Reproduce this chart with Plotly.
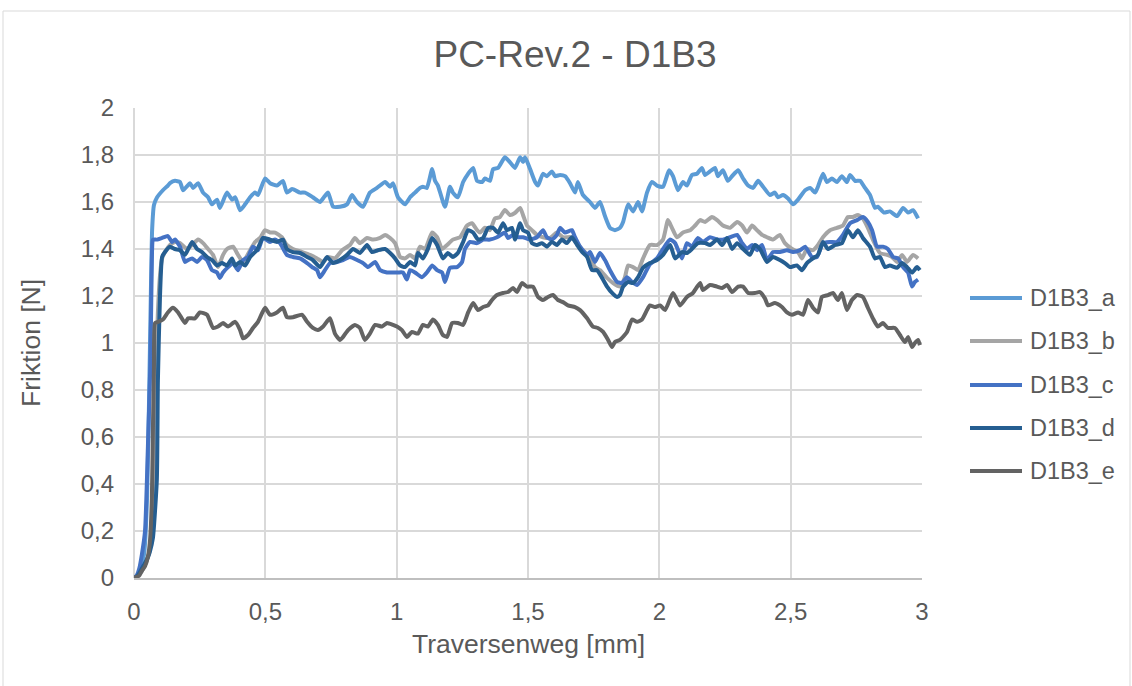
import plotly.graph_objects as go

# Traversenweg [mm] and Friktion [N] per sample
weg_a = [0, 0.01, 0.02, 0.03, 0.04, 0.05, 0.058, 0.064, 0.069, 0.076,
         0.088, 0.110, 0.129, 0.137, 0.156, 0.175, 0.187, 0.213, 0.225, 0.244, 0.263, 0.282, 0.297, 0.316, 0.327,
         0.354, 0.373, 0.385, 0.404, 0.423, 0.442, 0.461, 0.472, 0.499, 0.518, 0.544, 0.567, 0.582, 0.602, 0.632,
         0.651, 0.681, 0.708, 0.723, 0.739, 0.758, 0.784, 0.811, 0.830, 0.849, 0.872, 0.898, 0.925, 0.956, 0.975,
         0.986, 1.005, 1.032, 1.051, 1.070, 1.089, 1.100, 1.115, 1.135, 1.146, 1.157, 1.184, 1.203, 1.214, 1.233,
         1.253, 1.272, 1.291, 1.306, 1.325, 1.336, 1.355, 1.367, 1.386, 1.412, 1.431, 1.450, 1.470, 1.481, 1.489,
         1.508, 1.527, 1.538, 1.557, 1.572, 1.591, 1.603, 1.622, 1.641, 1.660, 1.679, 1.690, 1.709, 1.736, 1.755,
         1.774, 1.793, 1.812, 1.831, 1.850, 1.862, 1.881, 1.900, 1.919, 1.934, 1.953, 1.972, 1.991, 2.014, 2.037,
         2.052, 2.071, 2.090, 2.105, 2.124, 2.143, 2.162, 2.174, 2.193, 2.212, 2.223, 2.242, 2.261, 2.277, 2.300,
         2.319, 2.338, 2.357, 2.376, 2.395, 2.421, 2.440, 2.452, 2.471, 2.490, 2.509, 2.528, 2.555, 2.574, 2.593,
         2.604, 2.623, 2.638, 2.657, 2.676, 2.695, 2.714, 2.726, 2.745, 2.764, 2.783, 2.802, 2.821, 2.832, 2.855,
         2.878, 2.905, 2.928, 2.947, 2.966, 2.985]
friktion_a = [0, 0.005, 0.02, 0.05, 0.12, 0.35, 0.8, 1.2, 1.48, 1.587,
              1.62, 1.65, 1.67, 1.68, 1.69, 1.685, 1.65, 1.68, 1.66, 1.68, 1.64, 1.62, 1.59, 1.61, 1.575,
              1.64, 1.61, 1.62, 1.565, 1.59, 1.62, 1.64, 1.63, 1.70, 1.68, 1.67, 1.69, 1.64, 1.655, 1.64,
              1.64, 1.62, 1.60, 1.62, 1.64, 1.58, 1.58, 1.59, 1.63, 1.60, 1.58, 1.64, 1.66, 1.685, 1.665,
              1.68, 1.62, 1.59, 1.62, 1.64, 1.66, 1.665, 1.66, 1.74, 1.69, 1.67, 1.58, 1.665, 1.64, 1.62,
              1.685, 1.72, 1.745, 1.69, 1.685, 1.70, 1.69, 1.74, 1.745, 1.79, 1.77, 1.745, 1.79, 1.77, 1.79,
              1.74, 1.685, 1.67, 1.72, 1.71, 1.73, 1.71, 1.715, 1.71, 1.68, 1.64, 1.685, 1.63, 1.60, 1.575,
              1.60, 1.54, 1.49, 1.48, 1.49, 1.515, 1.59, 1.56, 1.60, 1.56, 1.64, 1.685, 1.67, 1.665, 1.735,
              1.71, 1.65, 1.685, 1.67, 1.715, 1.72, 1.745, 1.715, 1.73, 1.745, 1.71, 1.735, 1.69, 1.71, 1.735,
              1.70, 1.67, 1.66, 1.69, 1.665, 1.63, 1.64, 1.62, 1.63, 1.615, 1.59, 1.61, 1.65, 1.66, 1.64,
              1.665, 1.72, 1.685, 1.70, 1.685, 1.71, 1.685, 1.715, 1.69, 1.69, 1.66, 1.63, 1.575, 1.58, 1.555,
              1.56, 1.54, 1.575, 1.555, 1.565, 1.53]

weg_b = [0, 0.01, 0.02, 0.03, 0.04, 0.05, 0.06, 0.07, 0.08, 0.085, 0.09, 0.10,
         0.107, 0.118, 0.137, 0.156, 0.175, 0.202, 0.221, 0.244, 0.263, 0.282, 0.301, 0.320, 0.339, 0.354, 0.377,
         0.396, 0.415, 0.442, 0.461, 0.480, 0.499, 0.518, 0.537, 0.563, 0.582, 0.605, 0.640, 0.670, 0.697, 0.720,
         0.739, 0.765, 0.792, 0.822, 0.841, 0.860, 0.887, 0.910, 0.937, 0.956, 0.975, 0.994, 1.013, 1.032, 1.051,
         1.070, 1.089, 1.108, 1.135, 1.154, 1.173, 1.192, 1.214, 1.241, 1.268, 1.287, 1.306, 1.317, 1.336, 1.355,
         1.374, 1.393, 1.412, 1.431, 1.450, 1.470, 1.481, 1.496, 1.515, 1.534, 1.557, 1.584, 1.610, 1.633, 1.667,
         1.687, 1.709, 1.736, 1.755, 1.774, 1.801, 1.824, 1.850, 1.869, 1.881, 1.900, 1.919, 1.938, 1.964, 1.991,
         2.014, 2.033, 2.048, 2.067, 2.090, 2.117, 2.136, 2.155, 2.174, 2.200, 2.220, 2.242, 2.269, 2.296, 2.315,
         2.334, 2.353, 2.372, 2.391, 2.410, 2.433, 2.459, 2.478, 2.505, 2.528, 2.543, 2.562, 2.585, 2.604, 2.623,
         2.650, 2.676, 2.699, 2.718, 2.737, 2.756, 2.775, 2.794, 2.813, 2.840, 2.867, 2.886, 2.905, 2.924, 2.943,
         2.966, 2.985]
friktion_b = [0, 0.005, 0.015, 0.03, 0.05, 0.08, 0.12, 0.2, 0.45, 0.8, 1.1, 1.3,
              1.36, 1.387, 1.417, 1.43, 1.425, 1.40, 1.417, 1.44, 1.425, 1.40, 1.375, 1.323, 1.375, 1.40, 1.41,
              1.375, 1.345, 1.395, 1.43, 1.447, 1.48, 1.47, 1.47, 1.45, 1.417, 1.40, 1.387, 1.375, 1.36, 1.345,
              1.366, 1.36, 1.395, 1.417, 1.447, 1.425, 1.447, 1.44, 1.447, 1.46, 1.447, 1.425, 1.366, 1.36, 1.375,
              1.36, 1.41, 1.40, 1.47, 1.45, 1.40, 1.417, 1.44, 1.45, 1.50, 1.51, 1.48, 1.47, 1.49, 1.48,
              1.53, 1.536, 1.566, 1.545, 1.553, 1.575, 1.545, 1.50, 1.48, 1.46, 1.45, 1.447, 1.47, 1.45, 1.45,
              1.425, 1.395, 1.366, 1.323, 1.31, 1.277, 1.255, 1.24, 1.28, 1.33, 1.323, 1.31, 1.36, 1.417, 1.417,
              1.44, 1.523, 1.49, 1.45, 1.47, 1.48, 1.50, 1.523, 1.515, 1.536, 1.523, 1.50, 1.49, 1.515, 1.50,
              1.47, 1.50, 1.48, 1.46, 1.45, 1.44, 1.46, 1.425, 1.40, 1.387, 1.36, 1.40, 1.395, 1.417, 1.45,
              1.48, 1.49, 1.50, 1.536, 1.536, 1.545, 1.53, 1.49, 1.44, 1.383, 1.375, 1.366, 1.345, 1.375, 1.345,
              1.375, 1.36]

weg_c = [0, 0.01, 0.02, 0.03, 0.042, 0.053, 0.062, 0.066, 0.069, 0.072,
         0.088, 0.107, 0.129, 0.145, 0.156, 0.175, 0.194, 0.206, 0.221, 0.240, 0.259, 0.278, 0.297, 0.316, 0.327,
         0.339, 0.358, 0.377, 0.396, 0.415, 0.434, 0.453, 0.472, 0.491, 0.518, 0.537, 0.556, 0.582, 0.605, 0.632,
         0.659, 0.678, 0.697, 0.708, 0.727, 0.746, 0.773, 0.796, 0.822, 0.849, 0.872, 0.891, 0.918, 0.937, 0.963,
         0.986, 1.005, 1.024, 1.039, 1.051, 1.070, 1.096, 1.115, 1.135, 1.154, 1.173, 1.184, 1.203, 1.230, 1.249,
         1.260, 1.279, 1.306, 1.329, 1.355, 1.382, 1.412, 1.424, 1.443, 1.462, 1.481, 1.508, 1.534, 1.557, 1.572,
         1.591, 1.610, 1.622, 1.641, 1.667, 1.679, 1.698, 1.725, 1.736, 1.755, 1.774, 1.793, 1.812, 1.839, 1.858,
         1.877, 1.896, 1.915, 1.938, 1.964, 1.991, 2.014, 2.041, 2.060, 2.086, 2.105, 2.124, 2.147, 2.166, 2.193,
         2.220, 2.242, 2.269, 2.296, 2.315, 2.334, 2.353, 2.372, 2.391, 2.410, 2.433, 2.459, 2.486, 2.509, 2.536,
         2.555, 2.581, 2.600, 2.623, 2.650, 2.676, 2.699, 2.726, 2.753, 2.775, 2.794, 2.810, 2.829, 2.851, 2.870,
         2.890, 2.909, 2.928, 2.947, 2.962, 2.973, 2.985]
friktion_c = [0, 0.01, 0.04, 0.1, 0.2, 0.56, 0.9, 1.2, 1.40, 1.44,
              1.44, 1.447, 1.455, 1.43, 1.44, 1.41, 1.345, 1.353, 1.36, 1.345, 1.366, 1.353, 1.31, 1.30, 1.277,
              1.30, 1.323, 1.34, 1.31, 1.353, 1.366, 1.41, 1.395, 1.447, 1.43, 1.44, 1.425, 1.375, 1.366, 1.36,
              1.34, 1.323, 1.31, 1.28, 1.31, 1.34, 1.345, 1.353, 1.366, 1.353, 1.34, 1.323, 1.345, 1.31, 1.30,
              1.30, 1.30, 1.30, 1.27, 1.31, 1.30, 1.28, 1.30, 1.33, 1.31, 1.30, 1.26, 1.32, 1.323, 1.345,
              1.40, 1.43, 1.425, 1.44, 1.44, 1.45, 1.47, 1.447, 1.46, 1.45, 1.45, 1.44, 1.45, 1.48, 1.45,
              1.44, 1.46, 1.49, 1.47, 1.48, 1.45, 1.41, 1.375, 1.387, 1.345, 1.383, 1.353, 1.31, 1.26, 1.255,
              1.28, 1.26, 1.247, 1.28, 1.335, 1.36, 1.40, 1.44, 1.425, 1.36, 1.425, 1.41, 1.447, 1.43, 1.45,
              1.44, 1.44, 1.45, 1.46, 1.425, 1.40, 1.417, 1.395, 1.417, 1.353, 1.387, 1.387, 1.395, 1.387, 1.395,
              1.41, 1.366, 1.366, 1.425, 1.43, 1.43, 1.46, 1.51, 1.523, 1.536, 1.515, 1.48, 1.41, 1.41, 1.40,
              1.366, 1.36, 1.323, 1.30, 1.24, 1.26, 1.27]

weg_d = [0, 0.01, 0.02, 0.03, 0.04, 0.05, 0.06, 0.072, 0.087, 0.091, 0.099, 0.107,
         0.118, 0.137, 0.156, 0.175, 0.194, 0.221, 0.240, 0.259, 0.278, 0.297, 0.316, 0.335, 0.354, 0.373, 0.385,
         0.404, 0.423, 0.442, 0.468, 0.491, 0.518, 0.544, 0.567, 0.582, 0.605, 0.632, 0.659, 0.681, 0.708, 0.735,
         0.758, 0.784, 0.811, 0.834, 0.860, 0.887, 0.906, 0.929, 0.956, 0.975, 0.994, 1.013, 1.032, 1.051, 1.070,
         1.081, 1.100, 1.119, 1.135, 1.154, 1.176, 1.195, 1.214, 1.233, 1.253, 1.272, 1.291, 1.310, 1.329, 1.348,
         1.367, 1.386, 1.405, 1.420, 1.439, 1.450, 1.470, 1.481, 1.500, 1.515, 1.534, 1.553, 1.572, 1.591, 1.610,
         1.629, 1.648, 1.667, 1.687, 1.706, 1.725, 1.744, 1.763, 1.782, 1.801, 1.820, 1.839, 1.850, 1.862, 1.881,
         1.900, 1.919, 1.938, 1.964, 1.991, 2.014, 2.041, 2.060, 2.086, 2.105, 2.124, 2.147, 2.174, 2.193, 2.220,
         2.239, 2.258, 2.277, 2.296, 2.319, 2.345, 2.364, 2.383, 2.410, 2.433, 2.459, 2.478, 2.497, 2.524, 2.543,
         2.562, 2.585, 2.604, 2.623, 2.642, 2.669, 2.695, 2.718, 2.737, 2.756, 2.775, 2.802, 2.821, 2.840, 2.859,
         2.878, 2.905, 2.924, 2.943, 2.962, 2.981, 2.992]
friktion_d = [0, 0.005, 0.02, 0.04, 0.06, 0.08, 0.11, 0.17, 0.42, 0.84, 1.2, 1.366,
              1.387, 1.41, 1.40, 1.395, 1.375, 1.43, 1.40, 1.387, 1.366, 1.353, 1.33, 1.34, 1.33, 1.36, 1.33,
              1.345, 1.33, 1.366, 1.395, 1.447, 1.44, 1.43, 1.44, 1.40, 1.387, 1.383, 1.366, 1.353, 1.323, 1.366,
              1.34, 1.353, 1.375, 1.40, 1.383, 1.417, 1.387, 1.395, 1.40, 1.383, 1.36, 1.33, 1.323, 1.345, 1.33,
              1.383, 1.36, 1.40, 1.447, 1.417, 1.36, 1.383, 1.366, 1.383, 1.43, 1.48, 1.47, 1.44, 1.447, 1.49,
              1.49, 1.47, 1.51, 1.48, 1.49, 1.44, 1.51, 1.48, 1.47, 1.425, 1.417, 1.425, 1.41, 1.43, 1.417,
              1.44, 1.425, 1.45, 1.417, 1.387, 1.366, 1.31, 1.31, 1.277, 1.24, 1.213, 1.196, 1.204, 1.24, 1.26,
              1.255, 1.28, 1.32, 1.34, 1.353, 1.375, 1.417, 1.36, 1.387, 1.383, 1.40, 1.425, 1.425, 1.417, 1.44,
              1.417, 1.447, 1.40, 1.425, 1.40, 1.375, 1.417, 1.40, 1.345, 1.366, 1.353, 1.34, 1.323, 1.33, 1.31,
              1.34, 1.36, 1.375, 1.43, 1.40, 1.417, 1.425, 1.48, 1.45, 1.48, 1.447, 1.41, 1.36, 1.366, 1.323,
              1.33, 1.32, 1.34, 1.323, 1.30, 1.323, 1.31]

weg_e = [0, 0.01, 0.02, 0.03, 0.042, 0.053, 0.061, 0.068, 0.072, 0.076, 0.080,
         0.091, 0.110, 0.129, 0.148, 0.168, 0.194, 0.206, 0.232, 0.251, 0.278, 0.301, 0.320, 0.339, 0.358, 0.385,
         0.404, 0.415, 0.434, 0.453, 0.472, 0.499, 0.518, 0.544, 0.567, 0.582, 0.605, 0.640, 0.659, 0.681, 0.700,
         0.720, 0.746, 0.765, 0.784, 0.796, 0.815, 0.841, 0.860, 0.879, 0.898, 0.918, 0.944, 0.963, 0.986, 1.001,
         1.020, 1.039, 1.058, 1.081, 1.100, 1.119, 1.138, 1.157, 1.176, 1.192, 1.211, 1.233, 1.253, 1.272, 1.291,
         1.310, 1.329, 1.348, 1.363, 1.382, 1.405, 1.424, 1.443, 1.458, 1.477, 1.496, 1.519, 1.538, 1.557, 1.576,
         1.595, 1.614, 1.633, 1.652, 1.679, 1.698, 1.725, 1.747, 1.766, 1.786, 1.805, 1.820, 1.831, 1.850, 1.877,
         1.896, 1.915, 1.934, 1.953, 1.964, 1.983, 2.003, 2.022, 2.052, 2.079, 2.105, 2.128, 2.155, 2.166, 2.193,
         2.220, 2.239, 2.258, 2.277, 2.300, 2.319, 2.338, 2.364, 2.383, 2.402, 2.414, 2.440, 2.467, 2.486, 2.505,
         2.528, 2.547, 2.566, 2.585, 2.604, 2.619, 2.642, 2.661, 2.680, 2.695, 2.714, 2.733, 2.753, 2.775, 2.794,
         2.813, 2.832, 2.851, 2.870, 2.897, 2.916, 2.935, 2.947, 2.962, 2.973, 2.985, 2.992]
friktion_e = [0, 0.005, 0.01, 0.03, 0.05, 0.09, 0.16, 0.34, 0.63, 0.9, 1.085,
              1.09, 1.10, 1.13, 1.15, 1.13, 1.085, 1.105, 1.105, 1.13, 1.12, 1.064, 1.07, 1.085, 1.07, 1.09,
              1.055, 1.02, 1.034, 1.064, 1.09, 1.15, 1.12, 1.13, 1.15, 1.11, 1.11, 1.12, 1.09, 1.064, 1.055,
              1.07, 1.105, 1.04, 1.013, 1.026, 1.055, 1.077, 1.064, 1.013, 1.04, 1.077, 1.07, 1.085, 1.077, 1.07,
              1.055, 1.026, 1.047, 1.04, 1.077, 1.07, 1.10, 1.077, 1.034, 1.026, 1.085, 1.085, 1.077, 1.13, 1.17,
              1.14, 1.153, 1.16, 1.183, 1.204, 1.213, 1.217, 1.234, 1.217, 1.255, 1.24, 1.24, 1.196, 1.183, 1.196,
              1.204, 1.183, 1.174, 1.16, 1.153, 1.14, 1.105, 1.07, 1.064, 1.047, 1.013, 0.983, 1.004, 1.013, 1.047,
              1.10, 1.09, 1.10, 1.14, 1.16, 1.153, 1.16, 1.14, 1.213, 1.16, 1.196, 1.213, 1.255, 1.225, 1.247,
              1.24, 1.234, 1.247, 1.217, 1.24, 1.24, 1.213, 1.213, 1.217, 1.19, 1.16, 1.17, 1.153, 1.13, 1.12,
              1.13, 1.12, 1.183, 1.15, 1.13, 1.196, 1.204, 1.213, 1.183, 1.213, 1.14, 1.183, 1.204, 1.196, 1.15,
              1.105, 1.07, 1.085, 1.064, 1.064, 1.034, 1.004, 1.026, 0.983, 1.0, 1.013, 0.991]

series_names = ["D1B3_a", "D1B3_b", "D1B3_c", "D1B3_d", "D1B3_e"]
series_colors = ["#5B9BD5", "#A5A5A5", "#4472C4", "#255E91", "#636363"]
weg = [weg_a, weg_b, weg_c, weg_d, weg_e]
friktion = [friktion_a, friktion_b, friktion_c, friktion_d, friktion_e]

chart_title = "PC-Rev.2 - D1B3"
x_title = "Traversenweg [mm]"
y_title = "Friktion [N]"

TEXT = "#595959"
GRID = "#D9D9D9"
FONT = "Liberation Sans, Arial, sans-serif"

fig = go.Figure()
for name, color, xs, ys in zip(series_names, series_colors, weg, friktion):
    fig.add_trace(go.Scatter(
        x=xs, y=ys, mode="lines", name=name, showlegend=False,
        line=dict(color=color, width=4, shape="spline", smoothing=0.5),
    ))

# plot area spans x 134..922, y 108..578 in a 1132x686 page
L, R, T, B = 134, 922, 108, 578
W, H = 1132, 686


def px(xp):
    return (xp - L) / (R - L)


def py(yp):
    return (B - yp) / (B - T)


shapes = [
    # chart-area outline
    dict(type="rect", xref="paper", yref="paper",
         x0=px(3), x1=px(1130), y0=py(690), y1=py(11),
         line=dict(color=GRID, width=1), fillcolor="rgba(0,0,0,0)", layer="below"),
]
annotations = []

# legend: line sample plus label per series
legend_y = [298, 341, 385, 428, 471]
for name, color, ly in zip(series_names, series_colors, legend_y):
    shapes.append(dict(type="line", xref="paper", yref="paper",
                       x0=px(970), x1=px(1022), y0=py(ly), y1=py(ly),
                       line=dict(color=color, width=4)))
    annotations.append(dict(text=name, xref="paper", yref="paper",
                            x=px(1028), y=py(ly), xanchor="left", yanchor="middle",
                            showarrow=False, font=dict(size=23.5, color=TEXT, family=FONT)))

annotations.append(dict(text=y_title, xref="paper", yref="paper", x=px(31), y=py(343),
                        xanchor="center", yanchor="middle", textangle=-90, showarrow=False,
                        font=dict(size=26.5, color=TEXT, family=FONT)))
annotations.append(dict(text=x_title, xref="paper", yref="paper", x=px(528), y=py(644),
                        xanchor="center", yanchor="middle", showarrow=False,
                        font=dict(size=26.5, color=TEXT, family=FONT)))

fig.update_layout(
    width=W, height=H,
    margin=dict(l=L, r=W - R, t=T, b=H - B, pad=0),
    paper_bgcolor="white", plot_bgcolor="white",
    separators=", ",
    font=dict(family=FONT, color=TEXT),
    title=dict(text=chart_title, x=575 / W, xanchor="center", xref="container",
               y=1 - 54 / H, yanchor="middle", yref="container",
               font=dict(size=37, color=TEXT, family=FONT)),
    shapes=shapes, annotations=annotations, showlegend=False,
)
fig.update_xaxes(range=[0, 3], dtick=0.5, tick0=0, showgrid=True, gridcolor=GRID, gridwidth=1.5,
                 zeroline=True, zerolinecolor=GRID, zerolinewidth=1.5,
                 showline=True, linecolor="#BFBFBF", linewidth=1.5, mirror=False,
                 ticks="", ticklabelstandoff=11,
                 tickfont=dict(size=24, color=TEXT, family=FONT))
fig.update_yaxes(range=[0, 2], dtick=0.2, tick0=0, showgrid=True, gridcolor=GRID, gridwidth=1.5,
                 zeroline=True, zerolinecolor=GRID, zerolinewidth=1.5,
                 showline=False, ticks="", ticklabelstandoff=19,
                 tickfont=dict(size=24, color=TEXT, family=FONT))

fig.write_html("out.html")
